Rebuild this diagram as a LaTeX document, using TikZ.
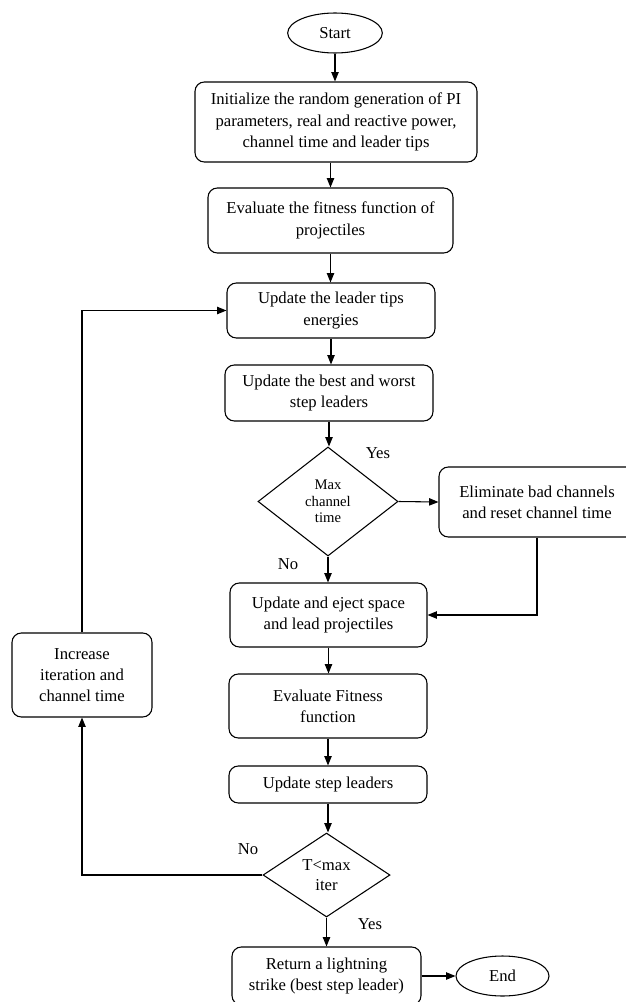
\documentclass[tikz,border=0pt]{standalone}
\usepackage{fontspec}
\setmainfont{Liberation Serif}
\usetikzlibrary{shapes,arrows.meta,positioning,calc}

\begin{document}
\begin{tikzpicture}[
    x=0.75pt, y=-0.75pt,
    flowline/.style={line width=0.8pt, draw=black},
    arrowline/.style={flowline, -{Triangle[length=7pt, width=5.5pt]}},
    terminal/.style={ellipse, draw, line width=0.8pt, inner sep=0pt, font=\fontsize{12.5}{15}\selectfont},
    process/.style={rectangle, rounded corners=7pt, draw, line width=0.8pt, align=center, inner sep=2pt, font=\fontsize{12.5}{16}\selectfont},
    decision/.style={diamond, draw, line width=0.8pt, align=center, inner sep=0pt, aspect=1.4},
    answer/.style={font=\fontsize{12.5}{15}\selectfont}
]
\useasboundingbox (0,0) rectangle (625,1002);

% Main column
\node[terminal, minimum width=71pt, minimum height=30pt] (start-node) at (335, 33) {Start};
\node[process, minimum width=211.5pt, minimum height=60pt] (init-box) at (336, 122)
    {Initialize the random generation of PI\\parameters, real and reactive power,\\channel time and leader tips};
\node[process, minimum width=183.75pt, minimum height=48.75pt] (evalproj-box) at (330.5, 220.5)
    {Evaluate the fitness function of\\projectiles};
\node[process, minimum width=156pt, minimum height=41.25pt] (energy-box) at (331, 310.5)
    {Update the leader tips\\energies};
\node[process, minimum width=156pt, minimum height=42pt] (bestworst-box) at (329, 393)
    {Update the best and worst\\step leaders};

% Channel time check
\node[decision, minimum width=105pt, minimum height=81.75pt, font=\fontsize{11}{12.5}\selectfont] (maxct-dec) at (328, 501.5)
    {Max\\channel\\time};
\node[process, minimum width=147pt, minimum height=52.5pt] (elim-box) at (537, 502)
    {Eliminate bad channels\\and reset channel time};
\node[answer] (yes-ct) at (378, 453) {Yes};
\node[answer] (no-ct) at (288, 564) {No};

\node[process, minimum width=147.75pt, minimum height=48pt] (eject-box) at (328.5, 615)
    {Update and eject space\\and lead projectiles};
\node[process, minimum width=148.5pt, minimum height=48pt] (fitness-box) at (328, 706)
    {Evaluate Fitness\\function};
\node[process, minimum width=148.5pt, minimum height=27.75pt] (step-box) at (328, 784.5)
    {Update step leaders};

% Iteration check
\node[decision, minimum width=95.25pt, minimum height=63pt, font=\fontsize{12.5}{14.5}\selectfont] (tmax-dec) at (326.5, 875)
    {T<max\\iter};
\node[answer] (no-it) at (248, 849) {No};
\node[answer] (yes-it) at (370, 924) {Yes};

\node[process, minimum width=105pt, minimum height=63pt] (incr-box) at (82, 675)
    {Increase\\iteration and\\channel time};
\node[process, minimum width=141.75pt, minimum height=43.5pt] (strike-box) at (326.5, 976)
    {Return a lightning\\strike (best step leader)};
\node[terminal, minimum width=69.75pt, minimum height=30pt] (end-node) at (502.5, 976) {End};

% Connectors
\draw[arrowline] (start-node.south) -- (start-node.south |- init-box.north);
\draw[arrowline] (init-box.south -| evalproj-box) -- (evalproj-box.north);
\draw[arrowline] (evalproj-box.south) -- (evalproj-box.south |- energy-box.north);
\draw[arrowline] (energy-box.south) -- (energy-box.south |- bestworst-box.north);
\draw[arrowline] (bestworst-box.south) -- (bestworst-box.south |- maxct-dec.north);
\draw[arrowline] (maxct-dec.east) -- (elim-box.west);
\draw[arrowline] (maxct-dec.south) -- (maxct-dec.south |- eject-box.north);
\draw[arrowline] (elim-box.south) -- (elim-box.south |- eject-box.east) -- (eject-box.east);
\draw[arrowline] (eject-box.south) -- (eject-box.south |- fitness-box.north);
\draw[arrowline] (fitness-box.south) -- (step-box.north);
\draw[arrowline] (step-box.south) -- (step-box.south |- tmax-dec.north);
\draw[arrowline] (tmax-dec.south) -- (tmax-dec.south |- strike-box.north);
\draw[arrowline] (strike-box.east) -- (end-node.west);

% Loop back
\draw[arrowline] (tmax-dec.west) -- (incr-box.south |- tmax-dec.west) -- (incr-box.south);
\draw[arrowline] (incr-box.north) -- (incr-box.north |- energy-box.west) -- (energy-box.west);

\end{tikzpicture}
\end{document}
